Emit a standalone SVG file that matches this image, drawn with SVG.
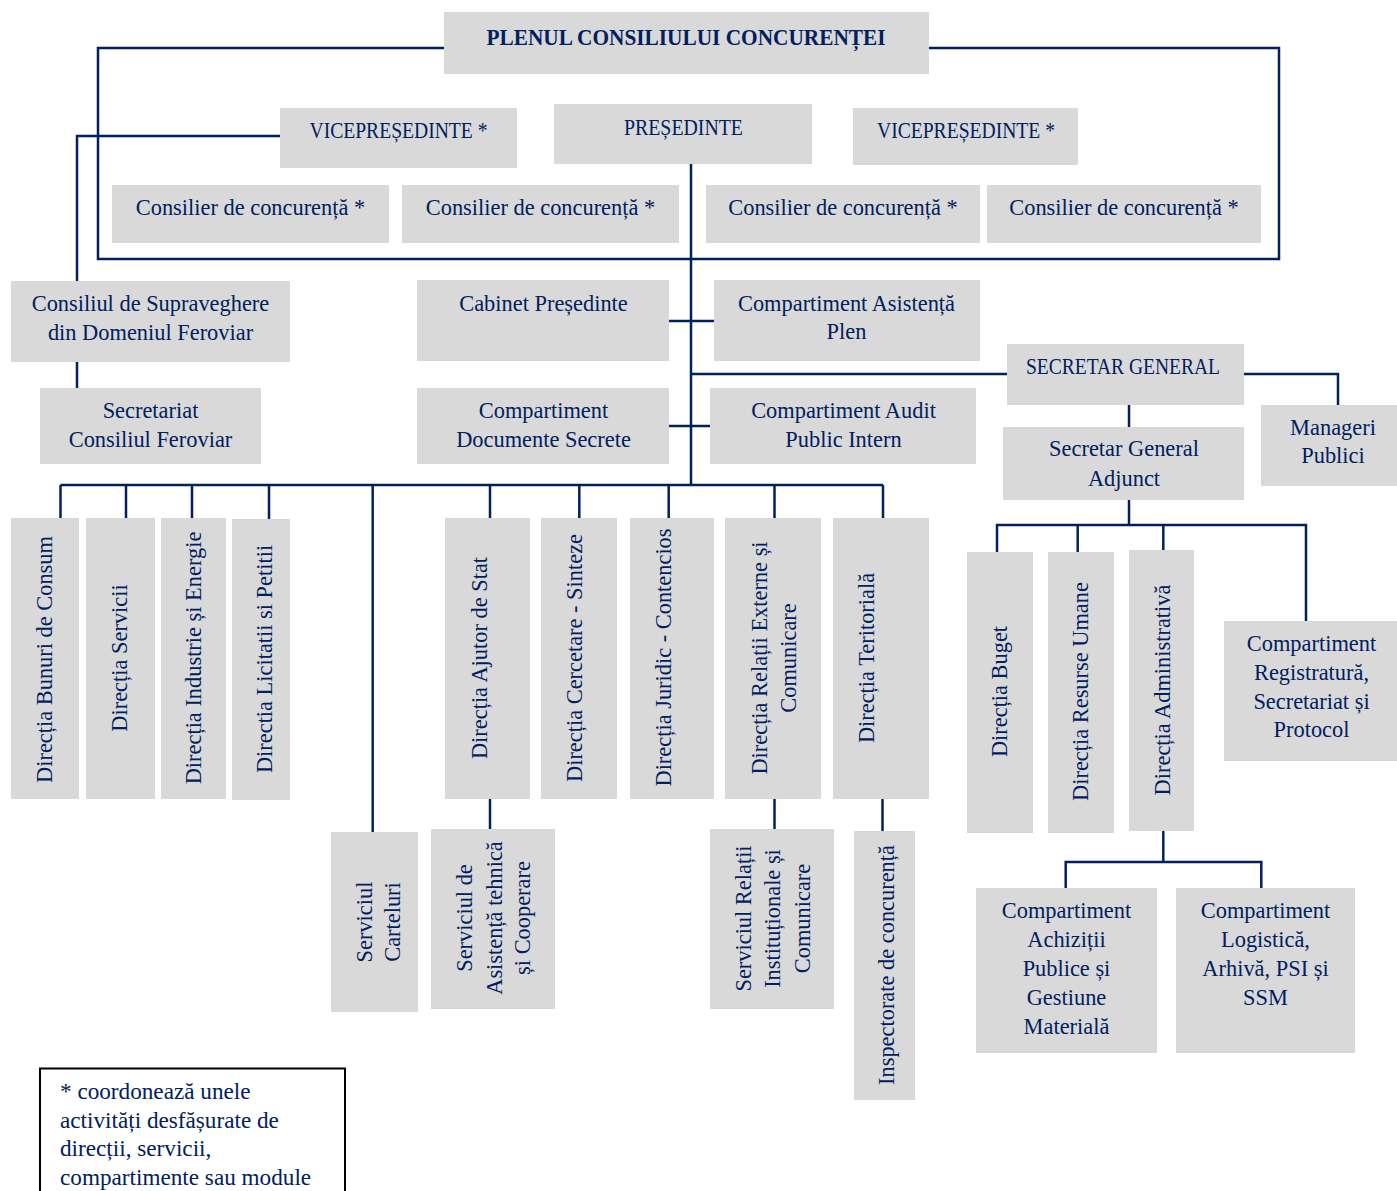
<svg xmlns="http://www.w3.org/2000/svg" width="1397" height="1191" viewBox="0 0 1397 1191">
<style>
.b{fill:#d9d9d9}
.t{font-family:"Liberation Serif",serif;font-size:22.4px;fill:#002060;text-anchor:middle}
.l{fill:none;stroke:#002060;stroke-width:2.5;stroke-linejoin:miter;stroke-linecap:butt}
.lg{font-family:"Liberation Serif",serif;font-size:23.2px;fill:#002060}
</style>
<rect width="1397" height="1191" fill="#ffffff"/>
<g id="connectors" class="l">
<polyline points="444,48 98,48 98,259 1279,259 1279,48 929,48"/>
<polyline points="280,136 77,136 77,281"/>
<line x1="77" y1="362" x2="77" y2="388"/>
<line x1="691" y1="164" x2="691" y2="486"/>
<line x1="669" y1="321" x2="714" y2="321"/>
<line x1="669" y1="426" x2="710" y2="426"/>
<line x1="691" y1="374" x2="1007" y2="374"/>
<polyline points="1244,374 1338,374 1338,405"/>
<line x1="1129" y1="405" x2="1129" y2="427"/>
<line x1="60.5" y1="485" x2="883" y2="485"/>
<polyline points="60.5,518 60.5,485"/>
<line x1="126" y1="485" x2="126" y2="518"/>
<line x1="192" y1="485" x2="192" y2="518"/>
<line x1="269" y1="485" x2="269" y2="519"/>
<line x1="372.7" y1="485" x2="372.7" y2="832"/>
<line x1="490" y1="485" x2="490" y2="518"/>
<line x1="579.3" y1="485" x2="579.3" y2="518"/>
<line x1="668.7" y1="485" x2="668.7" y2="518"/>
<line x1="774.5" y1="485" x2="774.5" y2="518"/>
<polyline points="883,485 883,518"/>
<line x1="490" y1="799" x2="490" y2="829"/>
<line x1="774.5" y1="799" x2="774.5" y2="829"/>
<line x1="882.5" y1="799" x2="882.5" y2="831"/>
<line x1="1129" y1="500" x2="1129" y2="525"/>
<polyline points="997,552 997,525 1306,525 1306,621"/>
<line x1="1077.7" y1="525" x2="1077.7" y2="552"/>
<line x1="1163.3" y1="525" x2="1163.3" y2="550"/>
<line x1="1163.3" y1="831" x2="1163.3" y2="862"/>
<polyline points="1065.7,888 1065.7,862 1261.3,862 1261.3,888"/>
</g>
<g id="plenul"><rect class="b" x="444" y="12" width="485" height="62"/><text class="t" x="686" y="45" font-weight="bold" font-size="23.5" textLength="399" lengthAdjust="spacingAndGlyphs">PLENUL CONSILIULUI CONCURENȚEI</text></g>
<g id="vice1"><rect class="b" x="280" y="108" width="237" height="60"/><text class="t" x="398.5" y="138" textLength="178" lengthAdjust="spacingAndGlyphs">VICEPREȘEDINTE *</text></g>
<g id="presedinte"><rect class="b" x="554" y="104" width="258" height="60"/><text class="t" x="683.5" y="135" textLength="119" lengthAdjust="spacingAndGlyphs">PREȘEDINTE</text></g>
<g id="vice2"><rect class="b" x="853" y="108" width="225" height="57"/><text class="t" x="966" y="138" textLength="178" lengthAdjust="spacingAndGlyphs">VICEPREȘEDINTE *</text></g>
<g id="consilier1"><rect class="b" x="112" y="185" width="277" height="58"/><text class="t" x="250.5" y="215">Consilier de concurență *</text></g>
<g id="consilier2"><rect class="b" x="402" y="185" width="277" height="58"/><text class="t" x="540.5" y="215">Consilier de concurență *</text></g>
<g id="consilier3"><rect class="b" x="706" y="185" width="274" height="58"/><text class="t" x="843" y="215">Consilier de concurență *</text></g>
<g id="consilier4"><rect class="b" x="987" y="185" width="274" height="58"/><text class="t" x="1124" y="215">Consilier de concurență *</text></g>
<g id="supraveghere"><rect class="b" x="11" y="281" width="279" height="81"/><text class="t" x="150.5" y="311">Consiliul de Supraveghere</text><text class="t" x="150.5" y="340">din Domeniul Feroviar</text></g>
<g id="secretariat-feroviar"><rect class="b" x="40" y="388" width="221" height="76"/><text class="t" x="150.5" y="418">Secretariat</text><text class="t" x="150.5" y="447">Consiliul Feroviar</text></g>
<g id="cabinet"><rect class="b" x="417" y="280" width="252" height="81"/><text class="t" x="543.5" y="311">Cabinet Președinte</text></g>
<g id="documente-secrete"><rect class="b" x="417" y="388" width="252" height="76"/><text class="t" x="543.5" y="418">Compartiment</text><text class="t" x="543.5" y="447">Documente Secrete</text></g>
<g id="asistenta-plen"><rect class="b" x="714" y="280" width="266" height="81"/><text class="t" x="846.5" y="311">Compartiment Asistență</text><text class="t" x="846.5" y="339">Plen</text></g>
<g id="audit"><rect class="b" x="710" y="388" width="266" height="76"/><text class="t" x="843.5" y="418">Compartiment Audit</text><text class="t" x="843.5" y="447">Public Intern</text></g>
<g id="secretar-general"><rect class="b" x="1007" y="344" width="237" height="61"/><text class="t" x="1123" y="374" textLength="194" lengthAdjust="spacingAndGlyphs">SECRETAR GENERAL</text></g>
<g id="sg-adjunct"><rect class="b" x="1003" y="427" width="241" height="73"/><text class="t" x="1124" y="456">Secretar General</text><text class="t" x="1124" y="486">Adjunct</text></g>
<g id="manageri"><rect class="b" x="1261" y="405" width="136" height="81"/><text class="t" x="1333" y="435">Manageri</text><text class="t" x="1333" y="463">Publici</text></g>
<g id="bunuri"><rect class="b" x="11" y="518" width="68" height="281"/><text class="t" transform="translate(52,659.5) rotate(-90)">Direcția Bunuri de Consum</text></g>
<g id="servicii"><rect class="b" x="86" y="518" width="69" height="281"/><text class="t" transform="translate(127,658) rotate(-90)">Direcția Servicii</text></g>
<g id="industrie"><rect class="b" x="161" y="518" width="65" height="281"/><text class="t" transform="translate(201,658) rotate(-90)">Direcția Industrie și Energie</text></g>
<g id="licitatii"><rect class="b" x="232" y="519" width="58" height="281"/><text class="t" transform="translate(271.5,659) rotate(-90)">Directia Licitatii si Petitii</text></g>
<g id="carteluri"><rect class="b" x="331" y="832" width="87" height="180"/><text class="t" transform="translate(371.5,922) rotate(-90)">Serviciul</text><text class="t" transform="translate(400,922) rotate(-90)">Carteluri</text></g>
<g id="ajutor"><rect class="b" x="445" y="518" width="85" height="281"/><text class="t" transform="translate(486.5,658) rotate(-90)">Direcția Ajutor de Stat</text></g>
<g id="asistenta-tehnica"><rect class="b" x="431" y="829" width="124" height="180"/><text class="t" transform="translate(472,918) rotate(-90)">Serviciul de</text><text class="t" transform="translate(501.5,918) rotate(-90)">Asistență tehnică</text><text class="t" transform="translate(530,918) rotate(-90)">și Cooperare</text></g>
<g id="cercetare"><rect class="b" x="541" y="518" width="76" height="281"/><text class="t" transform="translate(581.5,658) rotate(-90)">Direcția Cercetare - Sinteze</text></g>
<g id="juridic"><rect class="b" x="630" y="518" width="84" height="281"/><text class="t" transform="translate(670.5,657.5) rotate(-90)">Direcția Juridic - Contencios</text></g>
<g id="relatii-externe"><rect class="b" x="725" y="518" width="96" height="281"/><text class="t" transform="translate(766.5,658) rotate(-90)">Direcția Relații Externe și</text><text class="t" transform="translate(795.5,658) rotate(-90)">Comunicare</text></g>
<g id="relatii-institutionale"><rect class="b" x="710" y="829" width="124" height="180"/><text class="t" transform="translate(750.5,918.5) rotate(-90)">Serviciul Relații</text><text class="t" transform="translate(780,918.5) rotate(-90)">Instituționale și</text><text class="t" transform="translate(809.5,918.5) rotate(-90)">Comunicare</text></g>
<g id="teritoriala"><rect class="b" x="833" y="518" width="96" height="281"/><text class="t" transform="translate(874,658) rotate(-90)">Direcția Teritorială</text></g>
<g id="inspectorate"><rect class="b" x="854" y="831" width="61" height="269"/><text class="t" transform="translate(893.5,965) rotate(-90)">Inspectorate de concurență</text></g>
<g id="buget"><rect class="b" x="967" y="552" width="66" height="281"/><text class="t" transform="translate(1007,691.5) rotate(-90)">Direcția Buget</text></g>
<g id="resurse-umane"><rect class="b" x="1048" y="552" width="66" height="281"/><text class="t" transform="translate(1088,691.5) rotate(-90)">Direcția Resurse Umane</text></g>
<g id="administrativa"><rect class="b" x="1129" y="550" width="65" height="281"/><text class="t" transform="translate(1170,690) rotate(-90)">Direcția Administrativă</text></g>
<g id="registratura"><rect class="b" x="1224" y="621" width="173" height="140"/><text class="t" x="1311.5" y="651">Compartiment</text><text class="t" x="1311.5" y="680">Registratură,</text><text class="t" x="1311.5" y="708.5">Secretariat și</text><text class="t" x="1311.5" y="737">Protocol</text></g>
<g id="achizitii"><rect class="b" x="976" y="888" width="181" height="165"/><text class="t" x="1066.5" y="918">Compartiment</text><text class="t" x="1066.5" y="947">Achiziții</text><text class="t" x="1066.5" y="976">Publice și</text><text class="t" x="1066.5" y="1005">Gestiune</text><text class="t" x="1066.5" y="1033.5">Materială</text></g>
<g id="logistica"><rect class="b" x="1176" y="888" width="179" height="165"/><text class="t" x="1265.5" y="918">Compartiment</text><text class="t" x="1265.5" y="947">Logistică,</text><text class="t" x="1265.5" y="976">Arhivă, PSI și</text><text class="t" x="1265.5" y="1005">SSM</text></g>
<g id="legend"><rect x="40" y="1068.5" width="305" height="140" fill="#ffffff" stroke="#000000" stroke-width="2"/><text class="lg" x="60" y="1099">* coordonează unele</text><text class="lg" x="60" y="1128">activități desfășurate de</text><text class="lg" x="60" y="1156">direcții, servicii,</text><text class="lg" x="60" y="1185">compartimente sau module</text></g>
</svg>
